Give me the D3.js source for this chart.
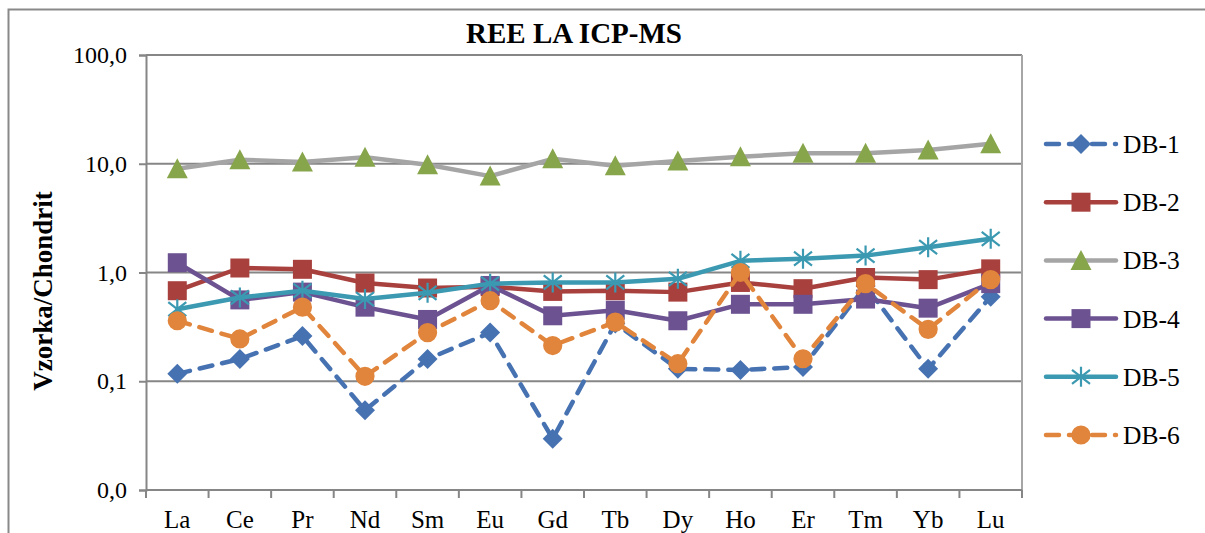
<!DOCTYPE html>
<html lang="en">
<head>
  <meta charset="UTF-8" />
  <script src="https://d3js.org/d3.v7.min.js"></script>
  <title>REE LA ICP-MS</title>
  <style>
    body { margin: 0; background: #fff; }
    svg text { font-family: "Liberation Serif", "Times New Roman", serif !important; fill: #000; }
  </style>
</head>
<body>
<script type="text/javascript">
var elements = ["La", "Ce", "Pr", "Nd", "Sm", "Eu", "Gd", "Tb", "Dy", "Ho", "Er", "Tm", "Yb", "Lu"];
var yTicks = [0.01, 0.1, 1, 10, 100];

var db1 = [0.117, 0.16, 0.26, 0.054, 0.16, 0.28, 0.0296, 0.34, 0.13, 0.127, 0.135, 0.75, 0.13, 0.6];
var db2 = [0.68, 1.10, 1.07, 0.80, 0.72, 0.74, 0.67, 0.68, 0.66, 0.81, 0.71, 0.90, 0.86, 1.08];
var db3 = [9.0, 10.9, 10.4, 11.5, 9.8, 7.7, 11.1, 9.6, 10.6, 11.6, 12.5, 12.5, 13.4, 15.3];
var db4 = [1.23, 0.56, 0.66, 0.48, 0.37, 0.76, 0.40, 0.45, 0.36, 0.51, 0.51, 0.57, 0.47, 0.79];
var db5 = [0.46, 0.59, 0.68, 0.57, 0.65, 0.79, 0.81, 0.81, 0.875, 1.28, 1.34, 1.43, 1.71, 2.04];
var db6 = [0.36, 0.245, 0.48, 0.111, 0.28, 0.55, 0.213, 0.35, 0.145, 1.0, 0.161, 0.79, 0.30, 0.86];

var series = [
  {name: "DB-1", values: db1, line: "#4672b2", fill: "#4672b2", mark: "diamond", dash: true},
  {name: "DB-2", values: db2, line: "#a8403d", fill: "#a8403d", mark: "square", dash: false},
  {name: "DB-3", values: db3, line: "#a5a5a5", fill: "#87a54a", mark: "triangle", dash: false},
  {name: "DB-4", values: db4, line: "#6c5291", fill: "#6c5291", mark: "square", dash: false},
  {name: "DB-5", values: db5, line: "#3b99b1", fill: "#3b99b1", mark: "star", dash: false},
  {name: "DB-6", values: db6, line: "#e0853b", fill: "#e0853b", mark: "circle", dash: true}
];

var W = 1205, H = 533;
var plot = {left: 146, right: 1022, top: 55, bottom: 490};

var svg = d3.select("body").append("svg").attr("width", W).attr("height", H);

// outer chart border
svg.append("rect").attr("x", 8.5).attr("y", 9.5).attr("width", 1300).attr("height", 600)
  .attr("fill", "none").attr("stroke", "#898989").attr("stroke-width", 2);

var x = d3.scaleBand().domain(elements).range([plot.left, plot.right]);
var y = d3.scaleLog().domain([0.01, 100]).range([plot.bottom, plot.top]);
var cx = function(i) { return x(elements[i]) + x.bandwidth() / 2; };

// gridlines
svg.append("g").selectAll("line").data(yTicks.slice(1)).enter().append("line")
  .attr("x1", plot.left).attr("x2", plot.right)
  .attr("y1", function(d){ return y(d); }).attr("y2", function(d){ return y(d); })
  .attr("stroke", "#868686").attr("stroke-width", 2);

// right border of plot area
svg.append("line").attr("x1", plot.right).attr("x2", plot.right)
  .attr("y1", plot.top).attr("y2", plot.bottom)
  .attr("stroke", "#a6a6a6").attr("stroke-width", 2);

// y axis
var yAxis = svg.append("g").attr("transform", "translate(" + plot.left + ",0)")
  .call(d3.axisLeft(y).tickValues(yTicks).tickSize(7).tickPadding(12)
    .tickFormat(function(d){ return d3.format(".1f")(d).replace(".", ","); }));
yAxis.attr("font-family", null);
yAxis.select(".domain").attr("stroke", "#868686").attr("stroke-width", 2);
yAxis.selectAll(".tick line").attr("stroke", "#868686").attr("stroke-width", 2);
yAxis.selectAll(".tick text").attr("font-size", 24);

// x axis: line, boundary ticks, centred labels
var xAxis = svg.append("g").attr("transform", "translate(0," + plot.bottom + ")")
  .call(d3.axisBottom(x).tickSize(0).tickPadding(20));
xAxis.attr("font-family", null);
xAxis.select(".domain").remove();
xAxis.selectAll(".tick text").attr("font-size", 25);
svg.append("line").attr("x1", plot.left).attr("x2", plot.right)
  .attr("y1", plot.bottom).attr("y2", plot.bottom)
  .attr("stroke", "#868686").attr("stroke-width", 2);
svg.append("g").selectAll("line").data(d3.range(elements.length + 1)).enter().append("line")
  .attr("x1", function(i){ return plot.left + i * x.step(); })
  .attr("x2", function(i){ return plot.left + i * x.step(); })
  .attr("y1", plot.bottom).attr("y2", plot.bottom + 8)
  .attr("stroke", "#868686").attr("stroke-width", 2);

// titles
svg.append("text").attr("x", 574).attr("y", 43).attr("text-anchor", "middle")
  .attr("font-size", 29).attr("font-weight", "bold").text("REE LA ICP-MS");
svg.append("text").attr("transform", "translate(52,291) rotate(-90)").attr("text-anchor", "middle")
  .attr("font-size", 27).attr("font-weight", "bold").text("Vzorka/Chondrit");

// marker shapes
function markerPath(type) {
  if (type === "diamond") return "M0,-10L10,0L0,10L-10,0Z";
  if (type === "square") return "M-9.5,-9.5H9.5V9.5H-9.5Z";
  if (type === "triangle") return "M0,-10.5L10.5,9.5L-10.5,9.5Z";
  if (type === "circle") return d3.symbol().type(d3.symbolCircle).size(290)();
  return "M0,-10V10M-9,-7L9,7M-9,7L9,-7";
}
function drawMarker(g, s) {
  if (s.mark === "star") {
    g.append("path").attr("d", markerPath("star")).attr("fill", "none")
      .attr("stroke", s.fill).attr("stroke-width", 2.2);
  } else {
    g.append("path").attr("d", markerPath(s.mark)).attr("fill", s.fill);
  }
}

var line = d3.line().x(function(d, i){ return cx(i); }).y(function(d){ return y(d); });

series.forEach(function(s) {
  var g = svg.append("g");
  g.append("path").attr("d", line(s.values)).attr("fill", "none")
    .attr("stroke", s.line).attr("stroke-width", 4.5)
    .attr("stroke-linejoin", "round").attr("stroke-linecap", "round")
    .attr("stroke-dasharray", s.dash ? "13,10" : null);
  s.values.forEach(function(v, i) {
    drawMarker(g.append("g").attr("transform", "translate(" + cx(i) + "," + y(v) + ")"), s);
  });
});

// legend
var legend = svg.append("g");
series.forEach(function(s, k) {
  var ly = 144 + k * 58.2;
  var g = legend.append("g").attr("transform", "translate(0," + ly + ")");
  g.append("line").attr("x1", 1046).attr("x2", 1116).attr("y1", 0).attr("y2", 0)
    .attr("stroke", s.line).attr("stroke-width", 4.5).attr("stroke-linecap", "round")
    .attr("stroke-dasharray", s.dash ? "13,10" : null);
  drawMarker(g.append("g").attr("transform", "translate(1081,0)"), s);
  g.append("text").attr("x", 1123).attr("y", 9).attr("font-size", 25.5).text(s.name);
});
</script>
</body>
</html>
